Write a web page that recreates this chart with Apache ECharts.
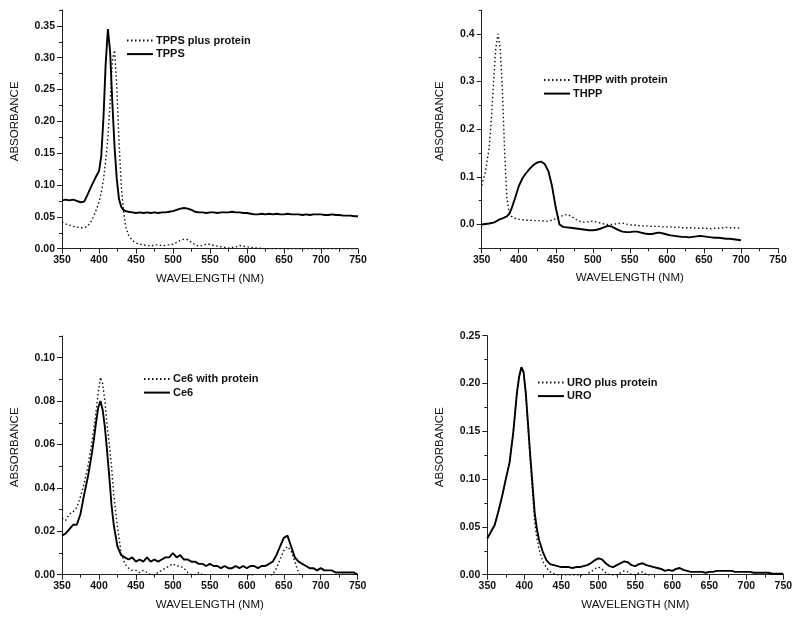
<!DOCTYPE html>
<html>
<head>
<meta charset="utf-8">
<script src="https://cdn.jsdelivr.net/npm/echarts@6/dist/echarts.min.js"></script>
<style>
html,body{margin:0;padding:0;background:#fff;}
#chart{width:800px;height:619px;}
</style>
</head>
<body>
<div id="chart"></div>
<script>
// ---------- DATA: [wavelength nm, absorbance] ----------
const tppsProtein = [[350,0.042],[355,0.039],[360,0.037],[365,0.035],[370,0.034],[375,0.033],[380,0.033],[385,0.036],[390,0.044],[395,0.057],[400,0.073],[403,0.088],[406,0.108],[409,0.138],[412,0.175],[415,0.228],[418,0.295],[421,0.312],[424,0.255],[427,0.170],[430,0.100],[433,0.060],[436,0.035],[440,0.021],[445,0.013],[450,0.009],[455,0.007],[460,0.006],[465,0.005],[470,0.004],[475,0.006],[480,0.006],[485,0.005],[490,0.005],[495,0.006],[500,0.007],[505,0.010],[510,0.013],[515,0.015],[520,0.014],[525,0.010],[530,0.006],[535,0.004],[540,0.005],[545,0.007],[550,0.007],[555,0.005],[560,0.004],[565,0.003],[570,0.002],[575,0.001],[580,0.002],[585,0.003],[590,0.005],[595,0.004],[600,0.003],[605,0.002],[610,0.001],[615,0.001],[620,0.000],[625,0.000],[630,0.000],[635,0.000],[640,0.000],[645,0.000],[650,0.000],[655,-0.001],[660,-0.002],[670,-0.002],[680,-0.002],[690,-0.002],[700,-0.002],[710,-0.002],[720,-0.002],[730,-0.002],[740,-0.002],[750,-0.002]];
const tpps = [[350,0.076],[355,0.077],[360,0.076],[365,0.077],[370,0.075],[375,0.073],[380,0.074],[385,0.086],[390,0.099],[395,0.111],[400,0.122],[403,0.145],[406,0.205],[409,0.290],[412,0.345],[415,0.310],[418,0.230],[421,0.160],[424,0.110],[427,0.078],[430,0.066],[433,0.061],[436,0.059],[440,0.058],[445,0.057],[450,0.056],[455,0.057],[460,0.056],[465,0.057],[470,0.056],[475,0.057],[480,0.056],[485,0.057],[490,0.057],[495,0.058],[500,0.059],[505,0.061],[510,0.063],[515,0.064],[520,0.063],[525,0.061],[530,0.058],[535,0.057],[540,0.057],[545,0.056],[550,0.057],[555,0.057],[560,0.056],[565,0.057],[570,0.057],[575,0.057],[580,0.058],[585,0.057],[590,0.057],[595,0.056],[600,0.056],[605,0.055],[610,0.054],[615,0.054],[620,0.055],[625,0.054],[630,0.055],[635,0.054],[640,0.055],[645,0.054],[650,0.054],[655,0.055],[660,0.054],[665,0.054],[670,0.054],[675,0.053],[680,0.054],[685,0.053],[690,0.054],[695,0.054],[700,0.054],[705,0.053],[710,0.053],[715,0.054],[720,0.053],[725,0.053],[730,0.052],[735,0.052],[740,0.052],[745,0.051],[750,0.051]];

const thppProtein = [[350,0.082],[355,0.110],[360,0.160],[363,0.220],[366,0.300],[369,0.370],[372,0.400],[375,0.370],[378,0.280],[381,0.150],[384,0.055],[387,0.025],[390,0.017],[395,0.013],[400,0.011],[405,0.010],[410,0.009],[415,0.009],[420,0.008],[425,0.008],[430,0.008],[435,0.007],[440,0.007],[445,0.009],[450,0.012],[455,0.016],[460,0.019],[465,0.021],[470,0.018],[475,0.013],[480,0.008],[485,0.005],[490,0.005],[495,0.006],[500,0.007],[505,0.005],[510,0.003],[515,0.001],[520,0.000],[525,0.000],[530,0.001],[535,0.002],[540,0.003],[545,0.001],[550,-0.001],[555,-0.001],[560,-0.002],[565,-0.003],[570,-0.003],[575,-0.003],[580,-0.004],[585,-0.004],[590,-0.004],[595,-0.005],[600,-0.005],[605,-0.005],[610,-0.006],[615,-0.005],[620,-0.007],[625,-0.007],[630,-0.007],[635,-0.007],[640,-0.008],[645,-0.008],[650,-0.008],[655,-0.008],[660,-0.009],[665,-0.008],[670,-0.008],[675,-0.007],[680,-0.006],[685,-0.007],[690,-0.007],[695,-0.007],[700,-0.008]];
const thpp = [[350,0.000],[355,0.001],[360,0.002],[363,0.003],[366,0.004],[369,0.006],[372,0.009],[375,0.011],[378,0.013],[381,0.015],[384,0.017],[387,0.022],[390,0.032],[395,0.055],[400,0.080],[405,0.097],[410,0.108],[415,0.117],[420,0.125],[425,0.130],[430,0.132],[435,0.127],[440,0.112],[445,0.080],[450,0.035],[455,0.000],[460,-0.005],[465,-0.006],[470,-0.007],[475,-0.008],[480,-0.009],[485,-0.010],[490,-0.011],[495,-0.012],[500,-0.012],[505,-0.011],[510,-0.009],[515,-0.006],[520,-0.003],[525,-0.004],[530,-0.008],[535,-0.012],[540,-0.015],[545,-0.016],[550,-0.016],[555,-0.015],[560,-0.015],[565,-0.017],[570,-0.019],[575,-0.020],[580,-0.020],[585,-0.018],[590,-0.017],[595,-0.019],[600,-0.021],[605,-0.023],[610,-0.024],[615,-0.025],[620,-0.026],[625,-0.026],[630,-0.027],[635,-0.026],[640,-0.025],[645,-0.024],[650,-0.025],[655,-0.026],[660,-0.027],[665,-0.028],[670,-0.028],[675,-0.029],[680,-0.030],[685,-0.030],[690,-0.031],[695,-0.032],[700,-0.033]];

const ce6Protein = [[350,0.026],[355,0.025],[360,0.028],[365,0.029],[370,0.031],[375,0.036],[380,0.042],[385,0.050],[390,0.060],[393,0.067],[396,0.075],[399,0.084],[402,0.091],[405,0.088],[408,0.080],[411,0.069],[414,0.060],[417,0.050],[420,0.037],[425,0.022],[430,0.010],[435,0.005],[440,0.003],[445,0.002],[450,0.002],[455,0.001],[460,0.002],[465,0.001],[470,0.000],[475,0.000],[480,0.001],[485,0.002],[490,0.003],[495,0.004],[500,0.005],[505,0.004],[510,0.004],[515,0.003],[520,0.001],[525,0.000],[530,0.000],[535,0.001],[540,0.000],[545,-0.001],[550,-0.001],[560,-0.001],[570,-0.001],[580,-0.001],[590,-0.001],[600,-0.001],[605,0.000],[610,-0.001],[620,-0.001],[630,-0.001],[635,0.000],[640,0.003],[645,0.007],[650,0.011],[655,0.013],[660,0.011],[665,0.006],[670,0.001],[675,-0.002],[690,-0.002],[710,-0.002],[730,-0.002],[750,-0.002]];
const ce6 = [[350,0.018],[355,0.019],[360,0.021],[365,0.023],[370,0.023],[375,0.028],[380,0.037],[385,0.045],[390,0.055],[393,0.062],[396,0.070],[399,0.077],[402,0.080],[405,0.076],[408,0.068],[411,0.057],[414,0.045],[417,0.032],[420,0.023],[425,0.013],[430,0.009],[435,0.008],[440,0.007],[445,0.008],[450,0.006],[455,0.007],[460,0.006],[465,0.008],[470,0.006],[475,0.007],[480,0.006],[485,0.007],[490,0.008],[495,0.008],[500,0.010],[505,0.008],[510,0.009],[515,0.007],[520,0.007],[525,0.006],[530,0.006],[535,0.005],[540,0.005],[545,0.004],[550,0.005],[555,0.004],[560,0.004],[565,0.003],[570,0.004],[575,0.003],[580,0.003],[585,0.004],[590,0.003],[595,0.004],[600,0.003],[605,0.004],[610,0.004],[615,0.003],[620,0.004],[625,0.004],[630,0.005],[635,0.006],[640,0.009],[645,0.013],[650,0.017],[655,0.018],[660,0.013],[665,0.008],[670,0.006],[675,0.005],[680,0.004],[685,0.003],[690,0.003],[695,0.002],[700,0.003],[705,0.002],[710,0.002],[715,0.002],[720,0.001],[725,0.001],[730,0.001],[735,0.001],[740,0.001],[745,0.001],[750,0.000]];

const uroProtein = [[350,0.038],[355,0.045],[360,0.052],[365,0.066],[370,0.082],[375,0.100],[380,0.117],[385,0.148],[390,0.190],[393,0.207],[396,0.217],[399,0.212],[402,0.190],[405,0.155],[408,0.120],[411,0.088],[414,0.055],[417,0.038],[420,0.026],[425,0.014],[430,0.007],[435,0.003],[440,0.001],[445,0.000],[450,-0.001],[460,-0.001],[470,-0.001],[480,-0.001],[485,0.001],[490,0.003],[495,0.006],[500,0.008],[505,0.006],[510,0.002],[515,0.000],[520,-0.001],[525,0.000],[530,0.002],[535,0.004],[540,0.003],[545,0.000],[550,0.000],[555,0.002],[560,0.003],[565,0.000],[570,-0.002],[600,-0.002],[650,-0.002],[700,-0.002],[750,-0.002]];
const uro = [[350,0.038],[355,0.045],[360,0.052],[365,0.066],[370,0.082],[375,0.100],[380,0.117],[385,0.148],[390,0.190],[393,0.207],[396,0.217],[399,0.212],[402,0.190],[405,0.158],[408,0.125],[411,0.095],[414,0.065],[417,0.048],[420,0.036],[425,0.024],[430,0.015],[435,0.011],[440,0.010],[445,0.009],[450,0.008],[455,0.008],[460,0.008],[465,0.007],[470,0.008],[475,0.008],[480,0.009],[485,0.010],[490,0.012],[495,0.015],[500,0.017],[505,0.016],[510,0.012],[515,0.009],[520,0.008],[525,0.010],[530,0.012],[535,0.014],[540,0.013],[545,0.010],[550,0.009],[555,0.011],[560,0.012],[565,0.010],[570,0.009],[575,0.008],[580,0.007],[585,0.006],[590,0.004],[595,0.005],[600,0.004],[605,0.006],[610,0.007],[615,0.005],[620,0.004],[625,0.003],[630,0.003],[635,0.003],[640,0.003],[645,0.002],[650,0.003],[655,0.003],[660,0.004],[665,0.004],[670,0.004],[675,0.004],[680,0.004],[685,0.003],[690,0.003],[695,0.003],[700,0.003],[705,0.003],[710,0.002],[715,0.002],[720,0.002],[725,0.002],[730,0.002],[735,0.001],[740,0.001],[745,0.001],[750,0.001]];

// ---------- TICKS ----------
const xMajorTicks = [350,400,450,500,550,600,650,700,750];
const xMinorTicks = [375,425,475,525,575,625,675,725];
const y1Major = [0,0.05,0.10,0.15,0.20,0.25,0.30,0.35];
const y1Minor = [0.025,0.075,0.125,0.175,0.225,0.275,0.325,0.375];
const y2Major = [0,0.1,0.2,0.3,0.4];
const y2Minor = [-0.05,0.05,0.15,0.25,0.35,0.45];
const y3Major = [0,0.02,0.04,0.06,0.08,0.10];
const y3Minor = [0.01,0.03,0.05,0.07,0.09,0.11];
const y4Major = [0,0.05,0.10,0.15,0.20,0.25];
const y4Minor = [0.025,0.075,0.125,0.175,0.225];

// ---------- CONFIG ----------
const FONT = '"Liberation Sans", Arial, Helvetica, sans-serif';
const AX = '#222';
const grids = [
  {left:62, top:10, width:296, height:238.7},
  {left:481.7, top:10, width:296.3, height:238.3},
  {left:62, top:336, width:295.7, height:238.7},
  {left:487.3, top:335.7, width:296, height:239}
];
const yRanges = [[0,0.375],[-0.05,0.45],[0,0.11],[0,0.25]];
const yMajors = [y1Major,y2Major,y3Major,y4Major];
const yMinors = [y1Minor,y2Minor,y3Minor,y4Minor];
const yDec = [2,1,2,2];
const yNameGap = [41,36,41,41];

const xAxis = [], yAxis = [];
grids.forEach((g,i)=>{
  xAxis.push({
    type:'value', gridIndex:i, min:350, max:750, interval:50,
    name:'WAVELENGTH (NM)', nameLocation:'middle', nameGap:24,
    nameTextStyle:{fontFamily:FONT, fontSize:11.5, color:'#111'},
    axisLine:{show:true, onZero:false, lineStyle:{color:AX, width:1}},
    axisTick:{show:true, inside:false, length:5, customValues:xMajorTicks, lineStyle:{color:AX,width:1}},
    axisLabel:{show:true, customValues:xMajorTicks, margin:6, fontFamily:FONT, fontSize:10.5, fontWeight:'bold', color:'#111'},
    splitLine:{show:false}
  });
  xAxis.push({
    type:'value', gridIndex:i, min:350, max:750, position:'bottom',
    axisLine:{show:false, onZero:false},
    axisTick:{show:true, length:3, customValues:xMinorTicks, lineStyle:{color:AX,width:1}},
    axisLabel:{show:false}, splitLine:{show:false}
  });
  const dec = yDec[i];
  yAxis.push({
    type:'value', gridIndex:i, min:yRanges[i][0], max:yRanges[i][1],
    name:'ABSORBANCE', nameLocation:'middle', nameGap:yNameGap[i], nameRotate:90,
    nameTextStyle:{fontFamily:FONT, fontSize:11.5, color:'#111', padding:[0,0,0,16]},
    axisLine:{show:true, onZero:false, lineStyle:{color:AX, width:1}},
    axisTick:{show:true, inside:false, length:5, customValues:yMajors[i], lineStyle:{color:AX,width:1}},
    axisLabel:{show:true, customValues:yMajors[i], margin:7, fontFamily:FONT, fontSize:10.5, fontWeight:'bold', color:'#111',
      formatter:(v)=>Number(v).toFixed(dec)},
    splitLine:{show:false}
  });
  yAxis.push({
    type:'value', gridIndex:i, min:yRanges[i][0], max:yRanges[i][1], position:'left',
    axisLine:{show:false, onZero:false},
    axisTick:{show:true, length:3, customValues:yMinors[i], lineStyle:{color:AX,width:1}},
    axisLabel:{show:false}, splitLine:{show:false}
  });
});

const dotted = {color:'#111', width:1.4, type:[1.5,2.5]};
const solid = {color:'#000', width:1.9, type:'solid'};
function ser(name, data, i, style){
  return {name, type:'line', data, xAxisIndex:2*i, yAxisIndex:2*i,
    showSymbol:false, symbol:'none', smooth:false, clip:true,
    lineStyle:style, itemStyle:{color:style.color}, emphasis:{disabled:true}};
}
const series = [
  ser('TPPS plus protein', tppsProtein, 0, dotted),
  ser('TPPS', tpps, 0, solid),
  ser('THPP with protein', thppProtein, 1, dotted),
  ser('THPP', thpp, 1, solid),
  ser('Ce6 with protein', ce6Protein, 2, dotted),
  ser('Ce6', ce6, 2, solid),
  ser('URO plus protein', uroProtein, 3, dotted),
  ser('URO', uro, 3, solid)
];
function leg(names, left, top){
  return {data:names, left, top, orient:'vertical', itemWidth:26, itemHeight:10, itemGap:2.6,
    padding:0, selectedMode:false,
    itemStyle:{color:'rgba(0,0,0,0)', borderColor:'rgba(0,0,0,0)', borderWidth:0, opacity:0},
    textStyle:{fontFamily:FONT, fontSize:11, fontWeight:'bold', color:'#111', padding:[0,0,0,-2]}};
}
const legend = [
  leg(['TPPS plus protein','TPPS'], 126, 35),
  leg(['THPP with protein','THPP'], 543, 74.5),
  leg(['Ce6 with protein','Ce6'], 143, 373.5),
  leg(['URO plus protein','URO'], 537, 377)
];

const chart = echarts.init(document.getElementById('chart'), null, {renderer:'canvas'});
chart.setOption({
  backgroundColor:'#fff', animation:false,
  grid:grids, xAxis, yAxis, series, legend
});
</script>
</body>
</html>
